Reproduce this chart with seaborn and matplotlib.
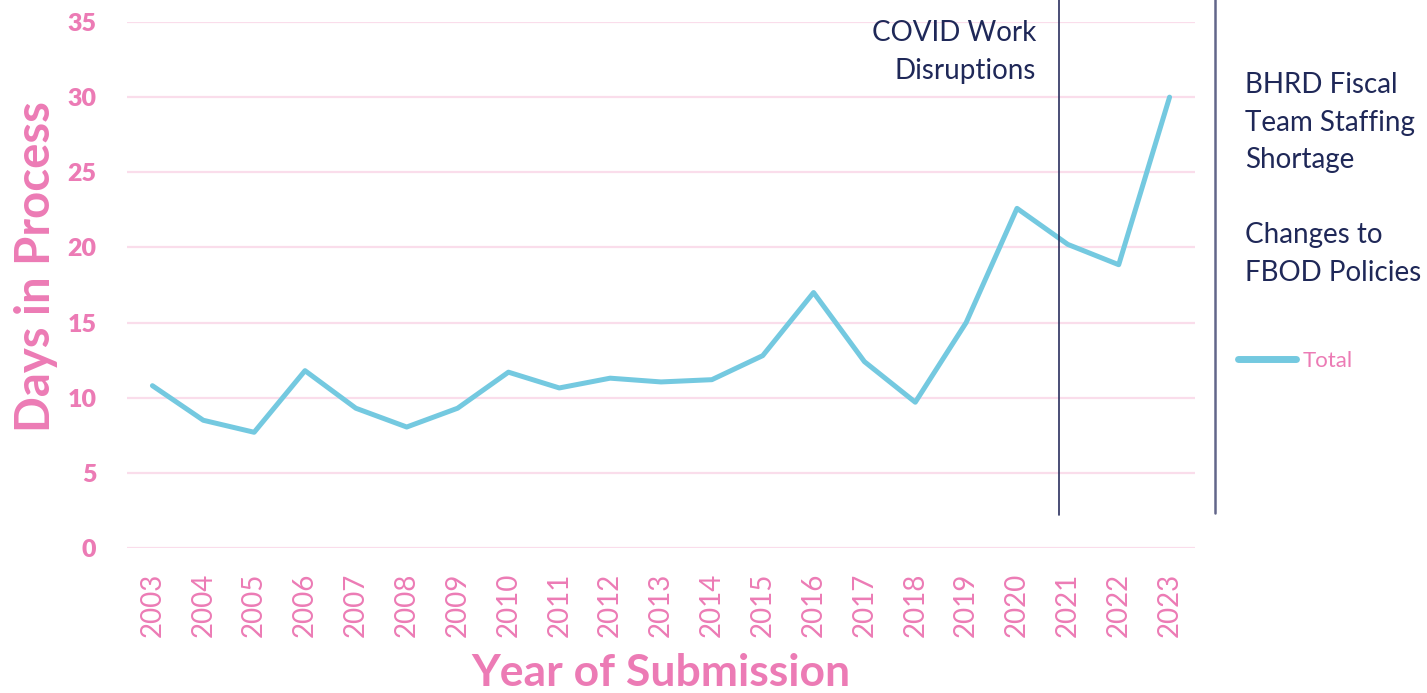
import numpy as np
import pandas as pd
import matplotlib
matplotlib.use("Agg")
import matplotlib.pyplot as plt
import seaborn as sns

# Données
years = list(range(2003, 2024))
days_total = [10.8, 8.5, 7.7, 11.8, 9.3, 8.05, 9.3, 11.7, 10.65, 11.3, 11.05,
              11.2, 12.8, 17.0, 12.4, 9.7, 15.0, 22.6, 20.2, 18.85, 30.0]
covid_note = "COVID Work\nDisruptions"
fiscal_note = "BHRD Fiscal\nTeam Staffing\nShortage\n\nChanges to\nFBOD Policies"

PINK = "#EC7BB5"
BLUE = "#74C9E0"
NAVY = "#1F2858"
GRID = "#FADDEB"

sns.set_theme(style="white")
plt.rcParams["font.family"] = ["Lato", "DejaVu Sans"]

df = pd.DataFrame({"year": years, "days": days_total, "serie": "Total"})

fig = plt.figure(figsize=(14.27, 6.93), dpi=100)
ax = fig.add_axes([127 / 1427, 1 - 548 / 693, (1195 - 127) / 1427, (548 - 22) / 693])

sns.lineplot(data=df, x="year", y="days", hue="serie", palette=[BLUE],
             linewidth=3.6, ax=ax, legend=True)

ax.set_xlim(2002.5, 2023.5)
ax.set_ylim(0, 35)
ax.set_yticks(range(0, 36, 5))
ax.set_xticks(years)
ax.set_xticklabels([str(y) for y in years], rotation=90, fontsize=20, color=PINK)
ax.set_yticklabels([str(v) for v in range(0, 36, 5)], fontsize=18,
                   fontweight="heavy", color=PINK)
ax.tick_params(axis="x", length=0, pad=18)
ax.tick_params(axis="y", length=0, pad=22)
ax.grid(axis="y", color=GRID, linewidth=1.6)
ax.grid(axis="x", visible=False)
for s in ax.spines.values():
    s.set_visible(False)

ax.set_xlabel("Year of Submission", fontsize=32, fontweight="bold", color=PINK, labelpad=11)
ax.set_ylabel("Days in Process", fontsize=34, fontweight="bold", color=PINK, labelpad=7)
ax.yaxis.label.set_y(0.535)

# Lignes verticales (annotations)
ax.axvline(2020.83, ymin=0.063, ymax=1.05, color="#2A2F5E", linewidth=1.2, clip_on=False)
ax.axvline(2023.89, ymin=0.066, ymax=1.05, color="#62668A", linewidth=1.8, clip_on=False)

fig.text(1036 / 1427, 1 - 20 / 693, covid_note, ha="right", va="top",
         fontsize=20, color=NAVY, linespacing=1.55)
fig.text(1245 / 1427, 1 - 72 / 693, fiscal_note, ha="left", va="top",
         fontsize=20, color=NAVY, linespacing=1.55)

leg = ax.legend(loc="center left", bbox_to_anchor=(1218 / 1427, 1 - 361 / 693),
                bbox_transform=fig.transFigure, frameon=False, fontsize=16,
                handlelength=2.6, handletextpad=0.3)
for t in leg.get_texts():
    t.set_color(PINK)
for h in leg.get_lines():
    h.set_linewidth(5)
    h.set_solid_capstyle("round")

fig.savefig("out.png", dpi=100)
